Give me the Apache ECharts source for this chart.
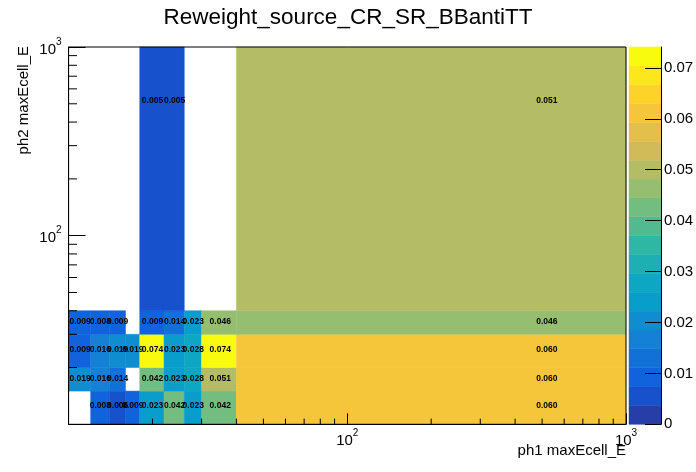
<!DOCTYPE html>
<html><head><meta charset="utf-8">
<script src="https://cdn.jsdelivr.net/npm/echarts@6/dist/echarts.min.js"></script>
<style>html,body{margin:0;padding:0;background:#fff}#c{width:696px;height:472px}</style>
</head><body><div id="c"></div>
<script>
// ---- data ----
const xEdges = [10, 12, 14, 16, 18, 22, 26, 30, 40, 1000];
const yEdges = [10, 15, 20, 30, 40, 1000];
const row10to15   = [null, 0.008, 0.006, 0.009, 0.023, 0.042, 0.023, 0.042, 0.060];
const row15to20   = [0.019, 0.016, 0.014, null, 0.042, 0.023, 0.028, 0.051, 0.060];
const row20to30   = [0.009, 0.016, 0.019, 0.019, 0.074, 0.023, 0.028, 0.074, 0.060];
const row30to40   = [0.009, 0.008, 0.009, null, 0.009, 0.014, 0.023, 0.046, 0.046];
const row40to1000 = [null, null, null, null, 0.005, 0.005, null, null, 0.051];
const rows = [row10to15, row15to20, row20to30, row30to40, row40to1000];
const zMax = 0.0741;
const nLevels = 20;
const colorbarTicks = [0, 0.01, 0.02, 0.03, 0.04, 0.05, 0.06, 0.07];
const majorTicks = [10, 100, 1000];
const labelTicks = [100, 1000];
const minorTicks = [20, 30, 40, 50, 60, 70, 80, 90, 200, 300, 400, 500, 600, 700, 800, 900];

// ---- kBird palette ----
const birdStops = [0, 0.125, 0.25, 0.375, 0.5, 0.625, 0.75, 0.875, 1];
const birdR = [0.2082, 0.0592, 0.0780, 0.0232, 0.1802, 0.5301, 0.8186, 0.9956, 0.9764];
const birdG = [0.1664, 0.3599, 0.5041, 0.6419, 0.7178, 0.7492, 0.7328, 0.7862, 0.9832];
const birdB = [0.5293, 0.8684, 0.8385, 0.7914, 0.6425, 0.4662, 0.3499, 0.1968, 0.0539];
function bird(t) {
  let k = 0;
  while (k < birdStops.length - 2 && t > birdStops[k + 1]) k++;
  const f = (t - birdStops[k]) / (birdStops[k + 1] - birdStops[k]);
  const c = a => Math.round(255 * (a[k] + (a[k + 1] - a[k]) * f));
  return 'rgb(' + c(birdR) + ',' + c(birdG) + ',' + c(birdB) + ')';
}
function levelColor(i) { return bird(Math.floor((i + 0.99) * 255 / nLevels) / 254); }
function levelOf(v) { return Math.max(0, Math.min(nLevels - 1, Math.floor(0.01 + v * nLevels / zMax))); }

const cells = [], texts = [];
rows.forEach((row, j) => row.forEach((v, i) => {
  if (v === null) return;
  cells.push([xEdges[i], xEdges[i + 1], yEdges[j], yEdges[j + 1], v]);
  texts.push([(xEdges[i] + xEdges[i + 1]) / 2, (yEdges[j] + yEdges[j + 1]) / 2, v]);
}));
const levels = Array.from({length: nLevels}, (_, i) => [i * zMax / nLevels, (i + 1) * zMax / nLevels, i]);

const FONT = '"Liberation Sans", Arial, Helvetica, sans-serif';
const rich = {
  b: {fontSize: 15, fontFamily: FONT, color: '#000', lineHeight: 20, verticalAlign: 'bottom'},
  s: {fontSize: 10, fontFamily: FONT, color: '#000', lineHeight: 10, verticalAlign: 'top'}
};
const powLabel = v => '{b|10}{s|' + Math.round(Math.log10(v)) + '}';

const chart = echarts.init(document.getElementById('c'), null, {renderer: 'canvas'});
chart.setOption({
  animation: false,
  backgroundColor: '#fff',
  graphic: [
    {type: 'text', left: 'center', top: 6, style: {text: 'Reweight_source_CR_SR_BBantiTT', font: '22.5px ' + FONT, fill: '#000'}},
    {type: 'text', right: 70, top: 443, style: {text: 'ph1 maxEcell_E', font: '15px ' + FONT, fill: '#000'}},
    {type: 'text', x: 24, y: 46, rotation: Math.PI / 2, style: {text: 'ph2 maxEcell_E', font: '15px ' + FONT, fill: '#000', align: 'right', verticalAlign: 'middle'}}
  ],
  grid: [
    {left: 68.6, top: 47, right: 70, bottom: 47.7, show: true, borderColor: '#000', borderWidth: 1, backgroundColor: 'transparent', z: 10, containLabel: false, outerBoundsMode: 'none'},
    {left: 629, top: 47, width: 32, bottom: 47.7, show: false, containLabel: false, outerBoundsMode: 'none'}
  ],
  xAxis: [
    {type: 'log', logBase: 10, min: 10, max: 1000, gridIndex: 0, z: 10,
     axisLine: {show: true, onZero: false, lineStyle: {color: '#000', width: 1}},
     axisTick: {show: true, inside: true, length: 11, lineStyle: {color: '#000'}, customValues: majorTicks},
     splitLine: {show: false},
     axisLabel: {show: true, margin: 4, customValues: labelTicks, formatter: powLabel, rich: rich}},
    {type: 'value', min: 0, max: 1, gridIndex: 1, show: false, axisLine: {onZero: false}}
  ],
  yAxis: [
    {type: 'log', logBase: 10, min: 10, max: 1000, gridIndex: 0, z: 10,
     axisLine: {show: true, onZero: false, lineStyle: {color: '#000', width: 1}},
     axisTick: {show: true, inside: true, length: 17, lineStyle: {color: '#000'}, customValues: majorTicks},
     splitLine: {show: false},
     axisLabel: {show: true, margin: 7, customValues: labelTicks, formatter: powLabel, rich: rich}},
    {type: 'value', min: 0, max: zMax, gridIndex: 1, position: 'right', z: 10,
     axisLine: {show: true, onZero: false, lineStyle: {color: '#000', width: 1}},
     axisTick: {show: true, inside: true, length: 16, lineStyle: {color: '#000'}, customValues: colorbarTicks},
     splitLine: {show: false},
     axisLabel: {show: true, margin: 3, customValues: colorbarTicks, fontSize: 15, fontFamily: FONT, color: '#000',
                 formatter: v => v === 0 ? '0' : v.toFixed(2)}}
  ],
  series: [
    {type: 'custom', xAxisIndex: 0, yAxisIndex: 0, data: cells, encode: {x: [0, 1], y: [2, 3]}, silent: true, z: 1,
     renderItem: (p, api) => {
       const a = api.coord([api.value(0), api.value(2)]);
       const b = api.coord([api.value(1), api.value(3)]);
       const c = levelColor(levelOf(api.value(4)));
       return {type: 'rect', shape: {x: a[0], y: b[1], width: b[0] - a[0], height: a[1] - b[1]},
               style: {fill: c, stroke: c, lineWidth: 0.5}};
     }},
    {type: 'custom', xAxisIndex: 0, yAxisIndex: 0, data: texts, encode: {x: 0, y: 1}, silent: true, z: 3,
     renderItem: (p, api) => {
       const q = api.coord([api.value(0), api.value(1)]);
       return {type: 'text', x: q[0], y: q[1],
               style: {text: api.value(2).toFixed(3), fill: '#000', font: 'bold 8.5px ' + FONT, align: 'center', verticalAlign: 'middle'}};
     }},
    {type: 'custom', xAxisIndex: 0, yAxisIndex: 0, data: minorTicks.map(v => [v]), silent: true, z: 12,
     encode: {x: 0},
     renderItem: (p, api) => {
       const v = api.value(0);
       const px = api.coord([v, 10]);
       const py = api.coord([10, v]);
       return {type: 'group', children: [
         {type: 'line', shape: {x1: px[0], y1: px[1], x2: px[0], y2: px[1] - 5.7}, style: {stroke: '#000', lineWidth: 1}},
         {type: 'line', shape: {x1: py[0], y1: py[1], x2: py[0] + 8.4, y2: py[1]}, style: {stroke: '#000', lineWidth: 1}}
       ]};
     }},
    {type: 'custom', xAxisIndex: 1, yAxisIndex: 1, data: levels, encode: {y: [0, 1]}, silent: true, z: 1,
     renderItem: (p, api) => {
       const a = api.coord([0, api.value(0)]);
       const b = api.coord([1, api.value(1)]);
       const c = levelColor(api.value(2));
       return {type: 'rect', shape: {x: a[0], y: b[1], width: b[0] - a[0], height: a[1] - b[1]},
               style: {fill: c, stroke: c, lineWidth: 0.5}};
     }}
  ]
});
</script></body></html>
